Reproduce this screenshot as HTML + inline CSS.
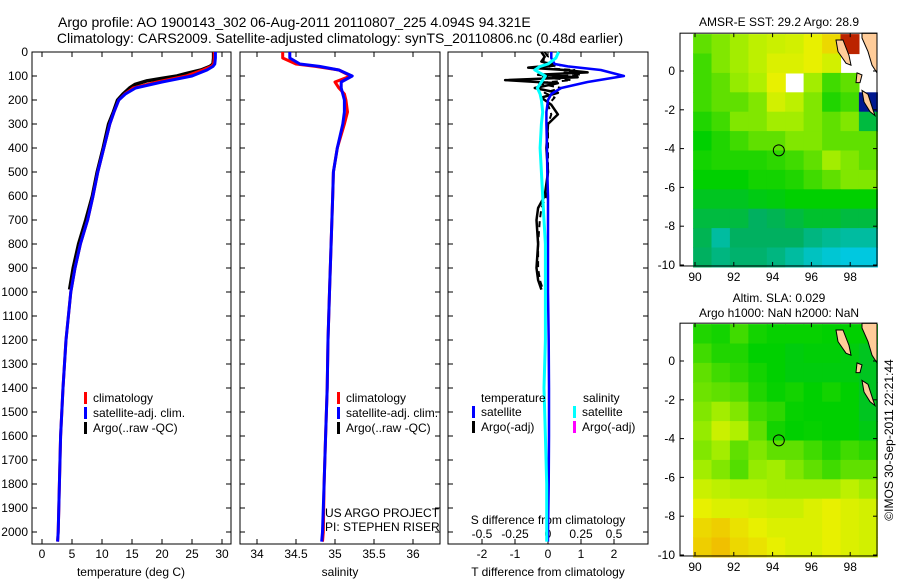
<!DOCTYPE html>
<html><head><meta charset="utf-8"><style>
body{margin:0;background:#fff;}
svg{display:block;font-family:"Liberation Sans",sans-serif;}
</style></head><body>
<svg id="s" width="900" height="580" viewBox="0 0 900 580">
<text x="58" y="27" font-size="14" text-anchor="start">Argo profile: AO 1900143_302 06-Aug-2011 20110807_225 4.094S 94.321E</text>
<text x="340" y="43" font-size="14" text-anchor="middle">Climatology: CARS2009. Satellite-adjusted climatology: synTS_20110806.nc (0.48d earlier)</text>
<text x="779" y="26" font-size="12" text-anchor="middle">AMSR-E SST: 29.2 Argo: 28.9</text>
<text x="779" y="302" font-size="12" text-anchor="middle">Altim. SLA: 0.029</text>
<text x="779" y="317" font-size="12" text-anchor="middle">Argo h1000: NaN h2000: NaN</text>
<text transform="translate(893,440) rotate(-90)" font-size="12" text-anchor="middle">©IMOS 30-Sep-2011 22:21:44</text>
</svg>
<script>
// ---- profile data ----
const depths=[0,25,50,60,75,100,125,150,175,200,250,300,400,500,600,700,800,900,1000,1200,1400,1600,1800,2000,2040];
const tempClim=[28.7,28.7,28.6,28.2,26.8,24.0,19.2,15.2,13.8,12.8,12.0,11.3,10.3,9.3,8.5,7.6,6.4,5.5,4.8,4.0,3.5,3.1,2.9,2.7,2.6];
const tempSat=[28.9,28.9,28.8,28.5,27.5,25.0,20.0,15.6,13.9,12.8,12.0,11.3,10.3,9.3,8.5,7.6,6.4,5.5,4.8,4.0,3.5,3.1,2.9,2.7,2.6];
const argoDepths=[0,25,50,60,75,90,100,110,120,135,150,175,200,250,300,400,500,600,700,800,900,990];
const tempArgo=[28.6,28.6,28.5,28.0,26.5,24.0,22.5,20.0,17.5,15.5,14.6,13.5,12.6,11.9,11.1,10.2,9.2,8.4,7.3,6.1,5.2,4.6];
const salClim=[34.33,34.33,34.5,34.75,35.05,35.2,35.0,35.05,35.12,35.14,35.16,35.12,35.03,34.98,34.97,34.96,34.95,34.94,34.93,34.91,34.9,34.88,34.86,34.85,34.84];
const salSat=[34.42,34.42,34.55,34.8,35.05,35.22,35.08,35.08,35.1,35.12,35.12,35.1,35.03,34.98,34.97,34.96,34.95,34.94,34.93,34.91,34.9,34.88,34.86,34.84,34.83];
const tDiffSat=[0.1,0.1,0.2,0.6,1.6,2.3,1.2,0.4,0.1,0.0,-0.05,-0.05,-0.03,-0.02,0,0,0,0,0,0.02,0.03,0.03,0.02,0.0,0.0];
const sDiffSat=[0.08,0.06,0.0,-0.06,-0.1,-0.02,-0.05,-0.08,-0.06,-0.05,-0.04,-0.05,-0.06,-0.05,-0.04,-0.03,-0.02,-0.02,-0.02,-0.02,-0.03,-0.02,-0.01,-0.01,-0.01];
const tDiffArgoDepths=[0,20,40,55,65,75,85,95,105,117,130,150,170,190,220,260,300,400,500,600,650,700,800,900,950,990];
const tDiffArgo=[-0.2,-0.1,-0.2,0.2,-0.6,0.5,1.2,-0.3,0.9,-1.3,0.3,-0.4,0.3,-0.2,0.1,0.3,0.0,-0.05,0.0,-0.1,-0.3,-0.35,-0.3,-0.35,-0.3,-0.2];
const tDiffArgo2=[-0.1,0,-0.2,0.4,-0.4,0.8,0.5,1.0,-0.2,0.7,-0.3,0.4,-0.1,0.2,0,0.1,0,0,0,-0.05,-0.2,-0.25,-0.3,-0.3,-0.25,-0.15];
const depthTicks=[0,100,200,300,400,500,600,700,800,900,1000,1100,1200,1300,1400,1500,1600,1700,1800,1900,2000];
const tempTicks=[0,5,10,15,20,25,30];
const salTicks=[34,34.5,35,35.5,36];
const tDiffTicks=[-2,-1,0,1,2];
const sDiffTicks=[-0.5,-0.25,0,0.25,0.5];
const sDiffLabels=["-0.5","-0.25","0","0.25","0.5"];
// ---- map data (1-degree cells, rows from north) ----
const mapLatTop=1.9, mapLonLeft=89.9, cellLon=0.95, cellLat=1.0;
const sstGrid=[
[0.5,0.55,0.6,0.65,0.68,0.7,0.75,0.8,0.97,null],
[0.45,0.55,0.6,0.65,0.72,0.72,0.75,0.7,null,null],
[0.45,0.5,0.58,0.62,0.75,null,0.6,0.45,0.5,null],
[0.45,0.5,0.5,0.55,0.7,0.65,0.55,0.4,0.45,-0.3],
[0.4,0.45,0.55,0.55,0.6,0.6,0.55,0.5,0.55,0.25],
[0.35,0.4,0.45,0.5,0.5,0.55,0.55,0.5,0.5,0.5],
[0.38,0.4,0.4,0.4,0.42,0.45,0.5,0.6,0.55,0.5],
[0.35,0.35,0.35,0.38,0.38,0.4,0.45,0.5,0.55,0.55],
[0.3,0.3,0.3,0.32,0.33,0.35,0.35,0.35,0.35,0.35],
[0.25,0.25,0.25,0.2,0.22,0.25,0.28,0.28,0.25,0.25],
[0.22,0.1,0.2,0.2,0.2,0.2,0.15,0.12,0.1,0.1],
[0.2,0.15,0.18,0.18,0.15,0.1,0.05,0.02,0.0,0.0]];
const slaGrid=[
[0.4,0.38,0.45,0.38,0.36,0.36,0.36,0.35,0.35,0.35],
[0.45,0.4,0.4,0.35,0.35,0.33,0.34,0.34,0.33,0.3],
[0.5,0.45,0.42,0.38,0.35,0.33,0.33,0.33,0.33,0.3],
[0.52,0.5,0.48,0.4,0.36,0.38,0.35,0.38,0.35,0.3],
[0.55,0.6,0.55,0.45,0.42,0.36,0.35,0.35,0.35,0.3],
[0.58,0.68,0.62,0.5,0.38,0.35,0.36,0.35,0.35,0.32],
[0.55,0.6,0.5,0.55,0.5,0.5,0.45,0.4,0.45,0.42],
[0.6,0.55,0.48,0.58,0.6,0.55,0.5,0.45,0.5,0.5],
[0.68,0.65,0.62,0.62,0.6,0.6,0.6,0.6,0.65,0.6],
[0.75,0.72,0.72,0.7,0.68,0.68,0.72,0.75,0.72,0.7],
[0.8,0.82,0.78,0.75,0.72,0.72,0.72,0.75,0.72,0.7],
[0.82,0.85,0.8,0.78,0.75,0.72,0.72,0.75,0.72,0.7]];
const lonTicks=[90,92,94,96,98];
const latTicks=[0,-2,-4,-6,-8,-10];
const argoLon=94.32, argoLat=-4.09;

const S=document.getElementById('s'), NS='http://www.w3.org/2000/svg';
function mk(tag,at,parent){const e=document.createElementNS(NS,tag);for(const k in at)e.setAttribute(k,at[k]);(parent||S).appendChild(e);return e;}
const top0=52, bot=544;
const yD=d=>top0+d*0.24;
function frame(x0,x1,name){const r=mk('rect',{x:x0,y:top0,width:x1-x0,height:bot-top0,fill:'none',stroke:'#000','stroke-width':1});
}
function line(xs,ys,col,w,name,dash){const pts=xs.map((v,i)=>v.toFixed(1)+','+ys[i].toFixed(1)).join(' ');
const p=mk('polyline',{points:pts,fill:'none',stroke:col,'stroke-width':w,'stroke-linejoin':'round'});if(dash)p.setAttribute('stroke-dasharray',dash);
}
function txt(x,y,s,anchor,name,fs){const t=mk('text',{x:x,y:y,'font-size':fs||12,'text-anchor':anchor||'middle'});t.textContent=s;
return t;}
function tick(x1,y1,x2,y2){mk('line',{x1:x1,y1:y1,x2:x2,y2:y2,stroke:'#000','stroke-width':1});}
function xticks(vals,fx,labels,name,ylab){vals.forEach((v,i)=>{const x=fx(v);tick(x,bot,x,bot-5);tick(x,top0,x,top0+5);txt(x,ylab||558,labels?labels[i]:String(v),'middle',name);});}
function yticks(x0,x1,lab){depthTicks.forEach(d=>{const y=yD(d);tick(x0,y,x0+5,y);tick(x1,y,x1-5,y);if(lab)txt(28,y+4,String(d),'end','depth-tick-label');});}
function legendEntry(x,y,col,label,name){const r=mk('rect',{x:x,y:y-10,width:3,height:12,fill:col});txt(x+9,y,label,'start',name);}

// Panel 1 temperature
const xT=t=>42+t*6;
frame(32,231,'temperature-panel');yticks(32,231,true);
xticks(tempTicks,xT,null,'temperature-tick-label');
line(tempArgo.map(xT),argoDepths.map(yD),'#000',3.5,'temperature-argo-line');
line(tempClim.map(xT),depths.map(yD),'#f00',3,'temperature-climatology-line');
line(tempSat.map(xT),depths.map(yD),'#00f',3,'temperature-satellite-line');
txt(131,576,'temperature (deg C)','middle','temperature-axis-title');
legendEntry(84,402,'#f00','climatology','legend-temp-climatology');
legendEntry(84,417,'#00f','satellite-adj. clim.','legend-temp-satellite');
legendEntry(84,432,'#000','Argo(..raw -QC)','legend-temp-argo');

// Panel 2 salinity
const xS=s=>257+(s-34)*78;
frame(240,440,'salinity-panel');yticks(240,440,false);
xticks(salTicks,xS,null,'salinity-tick-label');
line(salClim.map(xS),depths.map(yD),'#f00',3,'salinity-climatology-line');
line(salSat.map(xS),depths.map(yD),'#00f',3,'salinity-satellite-line');
txt(340,576,'salinity','middle','salinity-axis-title');
legendEntry(337,402,'#f00','climatology','legend-sal-climatology');
legendEntry(337,417,'#00f','satellite-adj. clim.','legend-sal-satellite');
legendEntry(337,432,'#000','Argo(..raw -QC)','legend-sal-argo');
txt(325,517,'US ARGO PROJECT','start','project-label');
txt(325,531,'PI: STEPHEN RISER','start','pi-label');

// Panel 3 differences
const xTd=v=>548+v*33, xSd=v=>548+v*132;
frame(448,648,'difference-panel');yticks(448,648,false);
xticks(tDiffTicks,xTd,null,'t-diff-tick-label');
sDiffTicks.forEach((v,i)=>txt(xSd(v),538,sDiffLabels[i],'middle','s-diff-tick-label'));
txt(548,524,'S difference from climatology','middle','s-diff-axis-title');
txt(548,576,'T difference from climatology','middle','t-diff-axis-title');
line(tDiffArgo.map(xTd),tDiffArgoDepths.map(yD),'#000',2.5,'t-diff-argo-line');
line(tDiffArgo2.map(xTd),tDiffArgoDepths.map(yD),'#000',2,'t-diff-argo-dashed-line','6,4');
line(tDiffSat.map(xTd),depths.map(yD),'#00f',2.5,'t-diff-satellite-line');
line(sDiffSat.map(xSd),depths.map(yD),'#0ff',3,'s-diff-satellite-line');
txt(481,402,'temperature','start','legend-temperature-header');
txt(583,402,'salinity','start','legend-salinity-header');
legendEntry(472,416,'#00f','satellite','legend-t-satellite');
legendEntry(472,431,'#000','Argo(-adj)','legend-t-argo');
legendEntry(573,416,'#0ff','satellite','legend-s-satellite');
legendEntry(573,431,'#f0f','Argo(-adj)','legend-s-argo');

// Maps
const stops=[[-0.3,[0,24,144]],[0,[0,200,224]],[0.2,[0,176,96]],[0.35,[0,208,0]],[0.5,[96,224,0]],[0.62,[176,240,0]],[0.75,[232,240,0]],[0.85,[240,192,0]],[0.92,[232,96,0]],[1,[160,0,0]]];
function cmap(v){for(let i=1;i<stops.length;i++){if(v<=stops[i][0]){const a=stops[i-1],b=stops[i],f=(v-a[0])/(b[0]-a[0]);const c=a[1].map((x,j)=>Math.round(x+(b[1][j]-x)*f));return 'rgb('+c+')';}}return 'rgb(160,0,0)';}
const mx=lon=>695+(lon-90)*19.4;
function drawMap(grid,yZero,name){
 const my=lat=>yZero-lat*19.4;
 const fy0=my(1.95), fy1=my(-10.05);
 grid.forEach((row,r)=>row.forEach((v,c)=>{if(v===null)return;
  const x=mx(mapLonLeft+c*cellLon), y=my(mapLatTop-r*cellLat);
  const e=mk('rect',{x:x.toFixed(1),y:y.toFixed(1),width:(cellLon*19.4+0.6).toFixed(1),height:(cellLat*19.4+0.6).toFixed(1),fill:cmap(v)});
  
  }));
 const land=[[[862,fy0],[877,fy0],[877,my(-0.1)],[872,my(0.3)],[868,my(1.0)],[862,my(1.7)]],
  [[836,my(1.6)],[843,my(1.6)],[849,my(0.8)],[851,my(0.3)],[846,my(0.4)],[838,my(1.0)]],
  [[857,my(-0.1)],[862,my(-0.2)],[860,my(-0.6)],[856,my(-0.6)]],
  [[862,my(-1.0)],[868,my(-1.2)],[873,my(-2.0)],[875,my(-2.3)],[870,my(-2.1)],[864,my(-1.6)]]];
 land.forEach(pts=>{const p=mk('polygon',{points:pts.map(q=>q[0]+','+q[1].toFixed(1)).join(' '),fill:'#ffcc99',stroke:'#000','stroke-width':1});
  });
 mk('rect',{x:680,y:fy0,width:13,height:fy1-fy0,fill:'#fff'});
 const fr=mk('rect',{x:680,y:fy0,width:197,height:fy1-fy0,fill:'none',stroke:'#000','stroke-width':1});
 
 lonTicks.forEach(l=>{const x=mx(l);tick(x,fy1,x,fy1-4);tick(x,fy0,x,fy0+4);txt(x,fy1+15,String(l),'middle',name+'-lon-label');});
 latTicks.forEach(l=>{const y=my(l);tick(680,y,684,y);tick(877,y,873,y);txt(675,y+4,String(l),'end',name+'-lat-label');});
 const c=mk('circle',{cx:mx(argoLon),cy:my(argoLat),r:5.5,fill:'none',stroke:'#000','stroke-width':1});
 
}
drawMap(sstGrid,71,'sst-map');
drawMap(slaGrid,361,'sla-map');
</script>
</body></html>
